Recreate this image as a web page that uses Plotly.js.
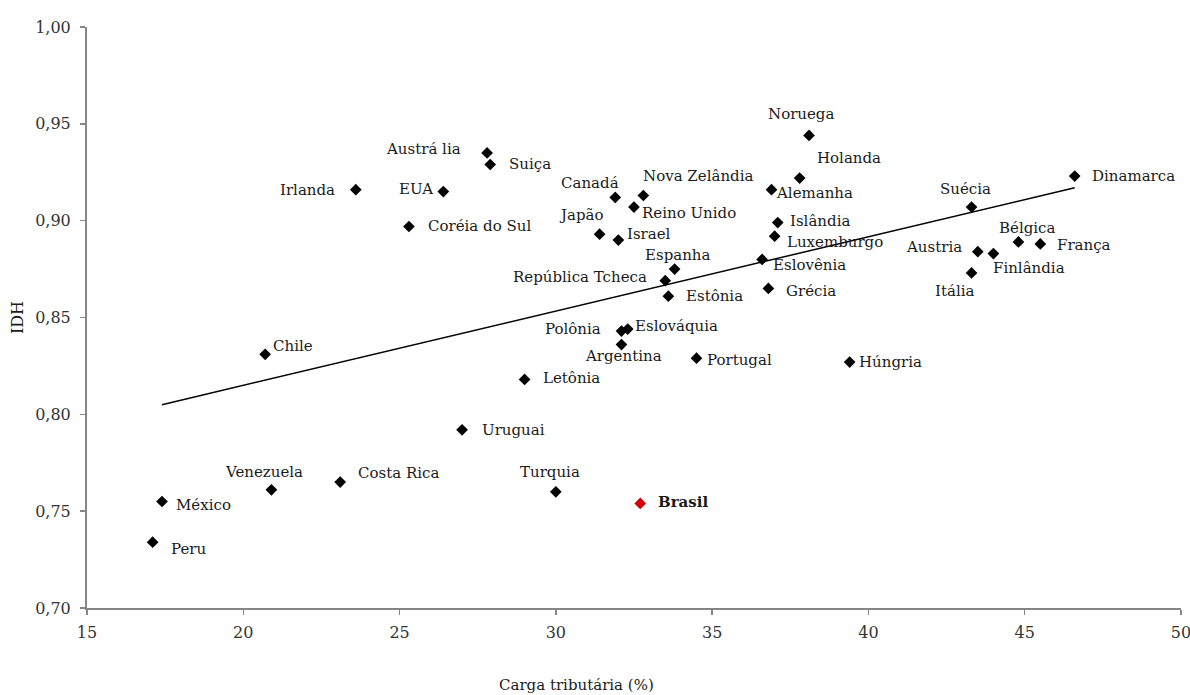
<!DOCTYPE html>
<html>
<head>
<meta charset="utf-8">
<script src="https://cdn.plot.ly/plotly-3.0.1.min.js"></script>
<style>html,body{margin:0;padding:0;background:#fff;}#chart{width:1190px;height:695px;}</style>
</head>
<body>
<div id="chart"></div>
<script>
// ---- data ----
const countries = ["Peru","México","Venezuela","Costa Rica","Chile","Irlanda","Austrá lia","Suiça","EUA","Coréia do Sul",
  "Canadá","Nova Zelândia","Reino Unido","Japão","Israel","Espanha","República Tcheca","Estônia","Polônia","Eslováquia",
  "Argentina","Portugal","Letônia","Uruguai","Turquia","Brasil","Noruega","Holanda","Alemanha","Islândia",
  "Luxemburgo","Eslovênia","Grécia","Húngria","Dinamarca","Suécia","Bélgica","França","Austria","Finlândia","Itália"];
const cargaTributaria = [17.1,17.4,20.9,23.1,20.7,23.6,27.8,27.9,26.4,25.3,
  31.9,32.8,32.5,31.4,32.0,33.8,33.5,33.6,32.1,32.3,
  32.1,34.5,29.0,27.0,30.0,32.7,38.1,37.8,36.9,37.1,
  37.0,36.6,36.8,39.4,46.6,43.3,44.8,45.5,43.5,44.0,43.3];
const idh = [0.734,0.755,0.761,0.765,0.831,0.916,0.935,0.929,0.915,0.897,
  0.912,0.913,0.907,0.893,0.890,0.875,0.869,0.861,0.843,0.844,
  0.836,0.829,0.818,0.792,0.760,0.754,0.944,0.922,0.916,0.899,
  0.892,0.880,0.865,0.827,0.923,0.907,0.889,0.888,0.884,0.883,0.873];
const highlighted = "Brasil";
// trend line end points as drawn in the reference
const trendX = [17.4, 46.6];
const trendY = [0.805, 0.917];
const xTicks = [15,20,25,30,35,40,45,50];
const yTicks = [0.70,0.75,0.80,0.85,0.90,0.95,1.00];
const xTitle = "Carga tributária (%)";
const yTitle = "IDH";

// ---- label placement (anchor, dx px, dy px down) ----
const labelPlacement = {
  "Peru":["left",18,7],"México":["left",14,4],"Venezuela":["center",-7,-18],"Costa Rica":["left",18,-9],
  "Chile":["left",8,-8],"Irlanda":["right",-21,0],"Austrá lia":["right",-26,-4],"Suiça":["left",19,-1],
  "EUA":["right",-10,-3],"Coréia do Sul":["left",19,0],"Canadá":["right",4,-14],"Nova Zelândia":["left",0,-19],
  "Reino Unido":["left",8,6],"Japão":["right",4,-19],"Israel":["left",9,-6],"Espanha":["center",3,-14],
  "República Tcheca":["right",-18,-4],"Estônia":["left",18,0],"Polônia":["right",-20,-2],"Eslováquia":["left",7,-3],
  "Argentina":["center",2,11],"Portugal":["left",10,2],"Letônia":["left",18,-1],"Uruguai":["left",20,0],
  "Turquia":["center",-6,-20],"Brasil":["left",18,-1],"Noruega":["center",-8,-21],"Holanda":["left",17,-20],
  "Alemanha":["left",4,3],"Islândia":["left",12,-2],"Luxemburgo":["left",12,6],"Eslovênia":["left",11,6],
  "Grécia":["left",18,3],"Húngria":["left",9,0],"Dinamarca":["left",17,0],"Suécia":["center",-6,-18],
  "Bélgica":["center",9,-14],"França":["left",17,1],"Austria":["right",-16,-5],"Finlândia":["left",0,14],
  "Itália":["right",2,18]
};

const FONT = "DejaVu Serif, Liberation Serif, serif";

const points = {
  type: "scatter", mode: "markers",
  x: cargaTributaria, y: idh, text: countries, hoverinfo: "text+x+y",
  marker: {symbol: "diamond", size: 9,
    color: countries.map(c => c === highlighted ? "#d40000" : "#000000"),
    line: {width: 0}},
  showlegend: false, cliponaxis: false
};
const trend = {
  type: "scatter", mode: "lines", x: trendX, y: trendY,
  line: {color: "#000", width: 1.5}, hoverinfo: "skip", showlegend: false
};

const annotations = countries.map((c, i) => {
  const p = labelPlacement[c] || ["left", 10, 0];
  return {
    x: cargaTributaria[i], y: idh[i], xref: "x", yref: "y",
    text: c === highlighted ? "<b>" + c + "</b>" : c,
    showarrow: false, xanchor: p[0], yanchor: "middle",
    xshift: p[1], yshift: -p[2], borderpad: 0, borderwidth: 0,
    font: {family: FONT, size: 15, color: "#1a1a1a"}
  };
});
annotations.push({
  text: xTitle, xref: "paper", yref: "paper", x: 0.447, y: -0.1325,
  xanchor: "center", yanchor: "middle", showarrow: false,
  font: {family: FONT, size: 15, color: "#1a1a1a"}
});

const layout = {
  width: 1190, height: 695,
  margin: {l: 87, r: 9, t: 27, b: 87, pad: 0},
  paper_bgcolor: "#fff", plot_bgcolor: "#fff",
  separators: ",.",
  showlegend: false,
  xaxis: {
    range: [15, 50.001], tickmode: "array", tickvals: xTicks, ticktext: xTicks.map(String),
    showline: true, linecolor: "#868686", linewidth: 2, showgrid: false, zeroline: false,
    ticks: "outside", ticklen: 5, tickcolor: "#868686", tickwidth: 1.5,
    ticklabeloverflow: "allow", ticklabelstandoff: 4,
    tickfont: {family: FONT, size: 16, color: "#333"}
  },
  yaxis: {
    range: [0.70, 1.00], tickmode: "array", tickvals: yTicks,
    ticktext: yTicks.map(v => v.toFixed(2).replace(".", ",")),
    showline: true, linecolor: "#868686", linewidth: 2, showgrid: false, zeroline: false,
    ticks: "outside", ticklen: 5, tickcolor: "#868686", tickwidth: 1.5,
    ticklabelstandoff: 6,
    tickfont: {family: FONT, size: 16, color: "#333"},
    title: {text: yTitle, standoff: 8, font: {family: FONT, size: 16, color: "#1a1a1a"}}
  },
  annotations: annotations
};

Plotly.newPlot("chart", [trend, points], layout, {displayModeBar: false, staticPlot: true});
</script>
</body>
</html>
